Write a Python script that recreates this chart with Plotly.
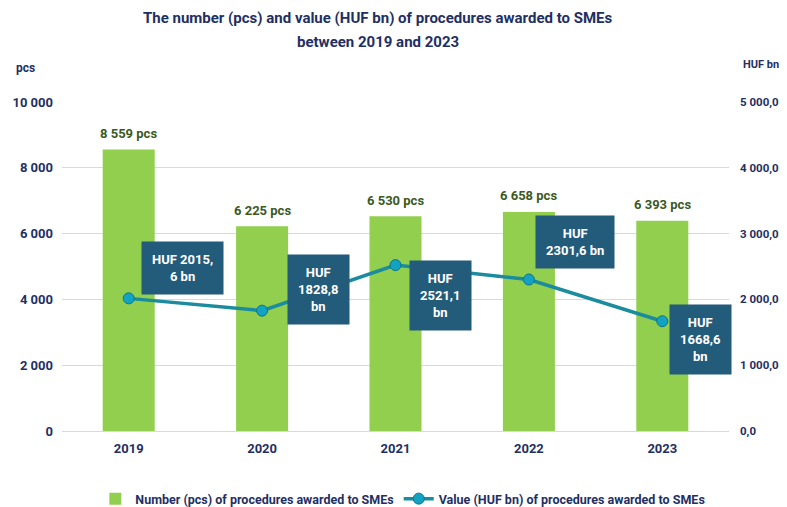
import plotly.graph_objects as go

years = ["2019", "2020", "2021", "2022", "2023"]
counts = [8559, 6225, 6530, 6658, 6393]
count_labels = ["8 559 pcs", "6 225 pcs", "6 530 pcs", "6 658 pcs", "6 393 pcs"]
values_bn = [2015.6, 1828.8, 2521.1, 2301.6, 1668.6]
value_labels = ["HUF 2015,<br>6 bn", "HUF<br>1828,8<br>bn", "HUF<br>2521,1<br>bn",
                "HUF<br>2301,6 bn", "HUF<br>1668,6<br>bn"]
left_ticks = [0, 2000, 4000, 6000, 8000, 10000]
right_ticks = [0, 1000, 2000, 3000, 4000, 5000]

FONT = "Roboto, Arial"
NAVY = "#1F2F63"
GREEN_TXT = "#3A5A1E"

fig = go.Figure()
fig.add_trace(go.Bar(
    x=years, y=counts, name="Number (pcs) of procedures awarded to SMEs",
    marker=dict(color="#92CF4F", line=dict(width=0)),
))
fig.add_trace(go.Scatter(
    x=years, y=values_bn, yaxis="y2", mode="lines+markers",
    name="Value (HUF bn) of procedures awarded to SMEs",
    line=dict(color="#1A8C9E", width=3.5),
    marker=dict(size=11, color="#12A3C2", line=dict(color="#0E7388", width=1)),
))

# bar value labels (x as category index)
for i, (c, lab) in enumerate(zip(counts, count_labels)):
    fig.add_annotation(x=i, y=c, xref="x", yref="y", text="<b>" + lab + "</b>", showarrow=False,
                       xanchor="center", yanchor="middle", yshift=16,
                       font=dict(family=FONT, size=13, color=GREEN_TXT))

# value boxes: offsets are layout only
offsets = [(12, 3, "bottom"), (25, 21, "middle"), (13, 5, "top"), (6, 11, "bottom"), (7, 17, "top")]
for i, (v, lab, (dx, dy, ya)) in enumerate(zip(values_bn, value_labels, offsets)):
    fig.add_annotation(x=i, y=v, xref="x", yref="y2", text="<b>" + lab + "</b>", showarrow=False,
                       xanchor="left", yanchor=ya, xshift=dx, yshift=dy,
                       bgcolor="#235B7B", borderpad=10,
                       font=dict(family=FONT, size=13, color="white"), align="center")

# title lines
fig.add_annotation(text="<b>The number (pcs) and value (HUF bn) of procedures awarded to SMEs</b>",
                   xref="paper", yref="paper", x=0.4734, y=1.2553, showarrow=False,
                   xanchor="center", yanchor="middle", font=dict(family=FONT, size=15, color=NAVY))
fig.add_annotation(text="<b>between 2019 and 2023</b>",
                   xref="paper", yref="paper", x=0.4734, y=1.1824, showarrow=False,
                   xanchor="center", yanchor="middle", font=dict(family=FONT, size=15, color=NAVY))

fig.add_annotation(text="<b>pcs</b>", xref="paper", yref="paper", x=-0.0554, y=1.1033,
                   showarrow=False, xanchor="center", yanchor="middle",
                   font=dict(family=FONT, size=12, color=NAVY))
fig.add_annotation(text="<b>HUF bn</b>", xref="paper", yref="paper", x=1.0487, y=1.1125,
                   showarrow=False, xanchor="center", yanchor="middle",
                   font=dict(family=FONT, size=11, color=NAVY))

fig.update_layout(
    width=787, height=540,
    margin=dict(l=54, r=65.5, t=94, b=117),
    paper_bgcolor="white", plot_bgcolor="white",
    separators=", ",
    bargap=0.61,
    showlegend=True,
    legend=dict(orientation="h", x=0.511, xanchor="center", y=-0.2067, yanchor="middle",
                font=dict(family=FONT, size=12.5, color=NAVY, weight="bold"), traceorder="normal"),
    xaxis=dict(type="category", range=[-0.5, len(years) - 0.5], showgrid=False, showline=True,
               linecolor="#D9D9D9", linewidth=1, automargin=False, ticklabelstandoff=5,
               tickfont=dict(family=FONT, size=13, color=NAVY, weight="bold"), ticks=""),
    yaxis=dict(range=[0, 10000], tickvals=left_ticks, tickformat=",.0f", automargin=False,
               showgrid=True, gridcolor="#D9D9D9", gridwidth=1, zeroline=False,
               ticks="", ticklabelstandoff=8,
               tickfont=dict(family=FONT, size=13, color=NAVY, weight="bold")),
    yaxis2=dict(range=[0, 5000], tickvals=right_ticks, tickformat=",.1f", automargin=False,
                overlaying="y", side="right", showgrid=False, zeroline=False, ticklabelstandoff=10,
                tickfont=dict(family=FONT, size=11.5, color=NAVY, weight="bold"), ticks=""),
)

fig.write_html("out.html")
